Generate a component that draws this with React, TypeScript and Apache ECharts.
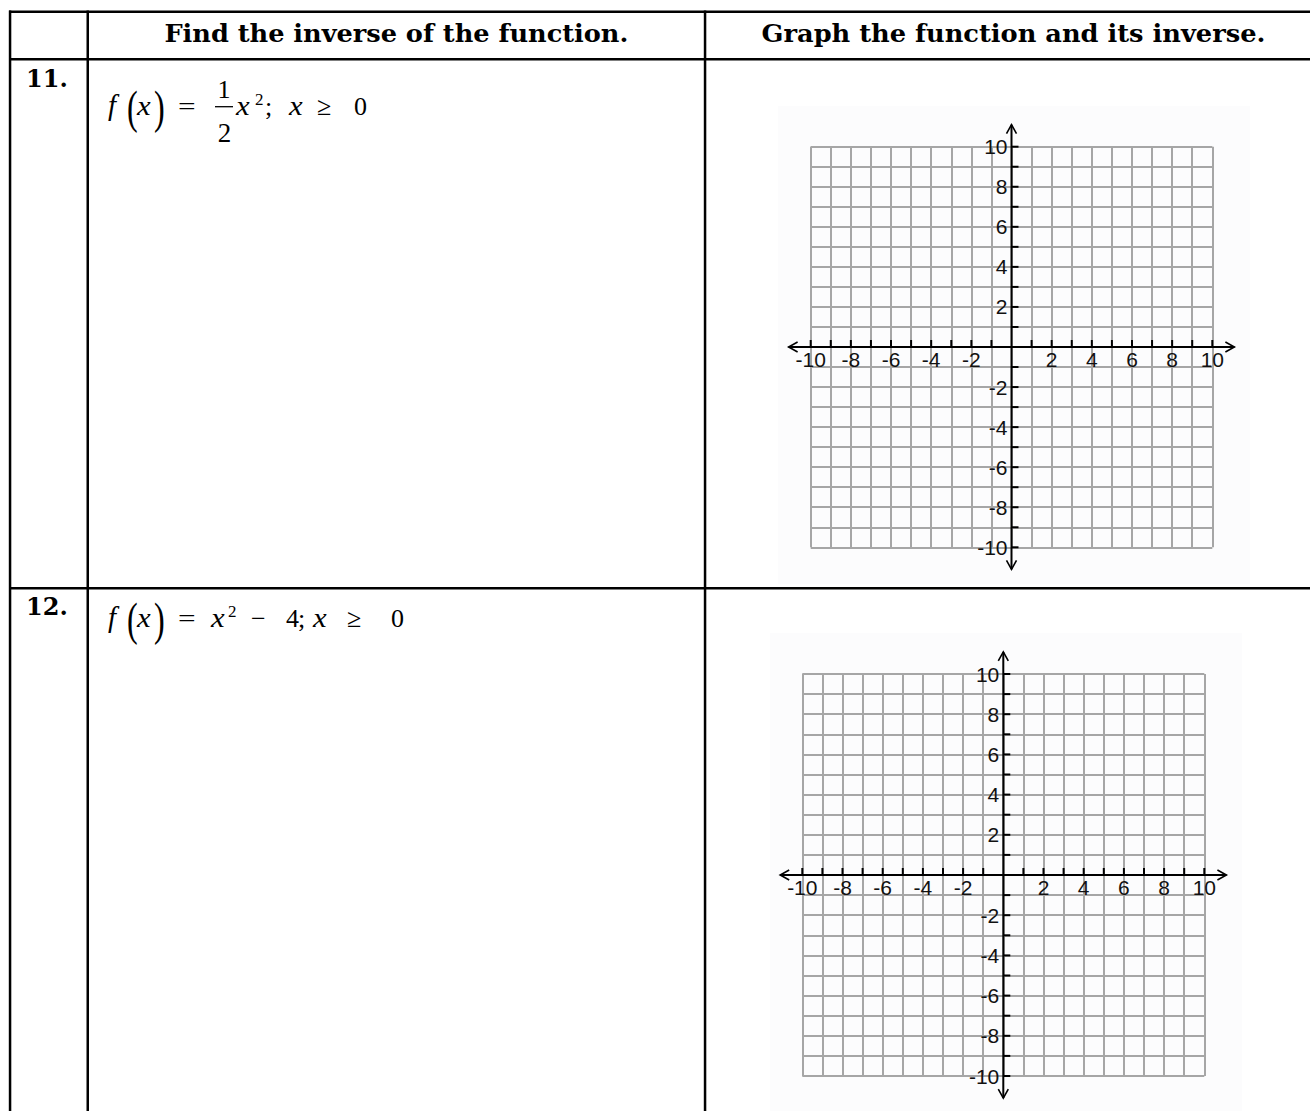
import React, { useEffect, useRef } from "react";
import * as echarts from "echarts";

// ---- data ----
const headers = ["Find the inverse of the function.", "Graph the function and its inverse."];
const problemNumbers = ["11.", "12."];
const axisMin = -10;
const axisMax = 10;
const axisInterval = 1;
const axisExtent = 11.1;
const tickValues = [-10, -9, -8, -7, -6, -5, -4, -3, -2, -1, 1, 2, 3, 4, 5, 6, 7, 8, 9, 10];
const xTickLabels = ["-10", "-8", "-6", "-4", "-2", "2", "4", "6", "8", "10"];
const yTickLabels = ["-10", "-8", "-6", "-4", "-2", "2", "4", "6", "8", "10"];

// ---- layout ----
const W = 1310;
const H = 1111;
const grids = [
  { left: 810.7, top: 146.7, width: 401.6, height: 400.6 },
  { left: 802.3, top: 674, width: 402, height: 402 },
];
const bgBoxes = [
  { x: 778, y: 106, w: 472, h: 478 },
  { x: 770, y: 633, w: 472, h: 478 },
];

const serif = "'Liberation Serif', 'Times New Roman', serif";
const boldSerif = "'DejaVu Serif', serif";
const sans = "'Liberation Sans', Arial, sans-serif";

type TOpts = { italic?: boolean; bold?: boolean; family?: string; align?: string; sx?: number };
function txt(text: string, x: number, y: number, size: number, o: TOpts = {}) {
  const align = o.align ?? "left";
  return {
    type: "text",
    x,
    y,
    scaleX: o.sx ?? 1,
    z: 10,
    silent: true,
    style: {
      text,
      fill: "#000",
      fontSize: size,
      fontFamily: o.family ?? serif,
      fontWeight: o.bold ? "bold" : "normal",
      fontStyle: o.italic ? "italic" : "normal",
      align,
      verticalAlign: "middle",
      textAlign: align,
      textVerticalAlign: "middle",
    },
  };
}
function bar(x: number, y: number, w: number, h: number, fill = "#000", z = 5) {
  return { type: "rect", z, silent: true, shape: { x, y, width: w, height: h }, style: { fill } };
}

// formula for a row, baseline based
function formula(row: number, base: number) {
  const c = base - 8.8; // central line for 26px serif
  const ci = base - 9.4; // central line for 28px italic letters
  const pc = base - 7.2; // central line for big parentheses
  const els: any[] = [];
  els.push(txt("f", 108, base - 9.8, 29, { italic: true }));
  els.push(txt("(", 127, pc, 46, { sx: 0.7 }));
  els.push(txt("x", 137, ci, 28, { italic: true, sx: 1.1 }));
  els.push(txt(")", 154, pc, 46, { sx: 0.7 }));
  els.push(txt("=", 178, c, 26, { sx: 1.2 }));
  if (row === 0) {
    els.push(txt("1", 224, 89.5, 26, { align: "center" }));
    els.push({ type: "line", z: 10, silent: true, shape: { x1: 215, y1: 106.7, x2: 233, y2: 106.7 }, style: { stroke: "#000", lineWidth: 1.3 } });
    els.push(txt("2", 224.5, 132.5, 27, { align: "center" }));
    els.push(txt("x", 236, ci, 28, { italic: true, sx: 1.1 }));
    els.push(txt("2", 255, base - 16, 17));
    els.push(txt(";", 265, c, 26));
    els.push(txt("x", 289, ci, 28, { italic: true, sx: 1.1 }));
    els.push(txt("≥", 317, c, 26));
    els.push(txt("0", 354, c, 26));
  } else {
    els.push(txt("x", 211, ci, 28, { italic: true, sx: 1.1 }));
    els.push(txt("2", 228, base - 16, 17));
    els.push(txt("−", 251, c, 26));
    els.push(txt("4", 286, c, 26));
    els.push(txt(";", 298, c, 26));
    els.push(txt("x", 313, ci, 28, { italic: true, sx: 1.1 }));
    els.push(txt("≥", 347, c, 26));
    els.push(txt("0", 391, c, 26));
  }
  return els;
}

function labelText(text: string, x: number, y: number, align: string, vAlign: string) {
  return {
    type: "text",
    x,
    y,
    style: {
      text,
      fill: "#111",
      fontSize: 21,
      fontFamily: sans,
      align,
      verticalAlign: vAlign,
      textAlign: align,
      textVerticalAlign: vAlign,
    },
  };
}

function axesRenderItem(_params: any, api: any) {
  const l = api.coord([-axisExtent, 0]);
  const r = api.coord([axisExtent, 0]);
  const t = api.coord([0, axisExtent]);
  const b = api.coord([0, -axisExtent]);
  const st = { stroke: "#000", lineWidth: 2, fill: "none" };
  const children: any[] = [];
  children.push({ type: "line", shape: { x1: l[0], y1: l[1], x2: r[0], y2: r[1] }, style: st });
  children.push({ type: "line", shape: { x1: t[0], y1: t[1], x2: b[0], y2: b[1] }, style: st });
  const aw = 9;
  const ah = 5;
  const ast = { stroke: "#000", lineWidth: 1.6, fill: "none" };
  children.push({ type: "polyline", shape: { points: [[r[0] - aw, r[1] - ah], [r[0], r[1]], [r[0] - aw, r[1] + ah]] }, style: ast });
  children.push({ type: "polyline", shape: { points: [[l[0] + aw, l[1] - ah], [l[0], l[1]], [l[0] + aw, l[1] + ah]] }, style: ast });
  children.push({ type: "polyline", shape: { points: [[t[0] - ah, t[1] + aw], [t[0], t[1]], [t[0] + ah, t[1] + aw]] }, style: ast });
  children.push({ type: "polyline", shape: { points: [[b[0] - ah, b[1] - aw], [b[0], b[1]], [b[0] + ah, b[1] - aw]] }, style: ast });
  tickValues.forEach((v) => {
    const p = api.coord([v, 0]);
    children.push({ type: "line", shape: { x1: p[0], y1: p[1], x2: p[0], y2: p[1] - 7 }, style: st });
    const q = api.coord([0, v]);
    children.push({ type: "line", shape: { x1: q[0], y1: q[1], x2: q[0] + 7, y2: q[1] }, style: st });
  });
  xTickLabels.forEach((s) => {
    const p = api.coord([Number(s), 0]);
    children.push(labelText(s, p[0], p[1] + 1.5, "center", "top"));
  });
  yTickLabels.forEach((s) => {
    const q = api.coord([0, Number(s)]);
    children.push(labelText(s, q[0] - 4, q[1], "right", "middle"));
  });
  return { type: "group", children };
}

export default function App() {
  const ref = useRef<HTMLDivElement>(null);
  useEffect(() => {
    if (!ref.current) return;
    const chart = echarts.init(ref.current, undefined, { renderer: "svg" });

    const graphics: any[] = [];
    bgBoxes.forEach((b) => graphics.push(bar(b.x, b.y, b.w, b.h, "#fcfcfd", -10)));
    // table lines
    graphics.push(bar(9, 10.5, W - 9, 2.5));
    graphics.push(bar(9, 58.1, W - 9, 2.5));
    graphics.push(bar(9, 587.1, W - 9, 2.5));
    graphics.push(bar(8.8, 10.5, 2.5, H));
    graphics.push(bar(86.5, 10.5, 2.5, H));
    graphics.push(bar(703.8, 10.5, 2.5, H));
    // headers
    graphics.push(txt(headers[0], 396.4, 34, 24, { family: boldSerif, bold: true, align: "center", sx: 1.067 }));
    graphics.push(txt(headers[1], 1013.5, 34, 24, { family: boldSerif, bold: true, align: "center", sx: 1.07 }));
    // numbers
    graphics.push(txt(problemNumbers[0], 26, 78.5, 24, { family: boldSerif, bold: true }));
    graphics.push(txt(problemNumbers[1], 26, 606.5, 24, { family: boldSerif, bold: true }));
    // formulas
    graphics.push(...formula(0, 115));
    graphics.push(...formula(1, 627));

    const axisCommon = (i: number) => ({
      type: "value",
      gridIndex: i,
      min: axisMin,
      max: axisMax,
      interval: axisInterval,
      axisLine: { show: false },
      axisTick: { show: false },
      axisLabel: { show: false },
      splitLine: { show: true, lineStyle: { color: "#a6a6a6", width: 2 } },
    });

    chart.setOption({
      animation: false,
      backgroundColor: "#ffffff",
      grid: grids.map((g) => ({ ...g, containLabel: false })),
      xAxis: grids.map((_, i) => axisCommon(i)),
      yAxis: grids.map((_, i) => axisCommon(i)),
      series: grids.map((_, i) => ({
        type: "custom",
        coordinateSystem: "cartesian2d",
        xAxisIndex: i,
        yAxisIndex: i,
        clip: false,
        silent: true,
        data: [[0, 0]],
        renderItem: axesRenderItem,
      })),
      graphic: { elements: graphics },
    });
    return () => chart.dispose();
  }, []);
  return (
    <div
      ref={ref}
      style={{ position: "absolute", left: 0, top: 0, width: W, height: H, background: "#fff" }}
    />
  );
}
